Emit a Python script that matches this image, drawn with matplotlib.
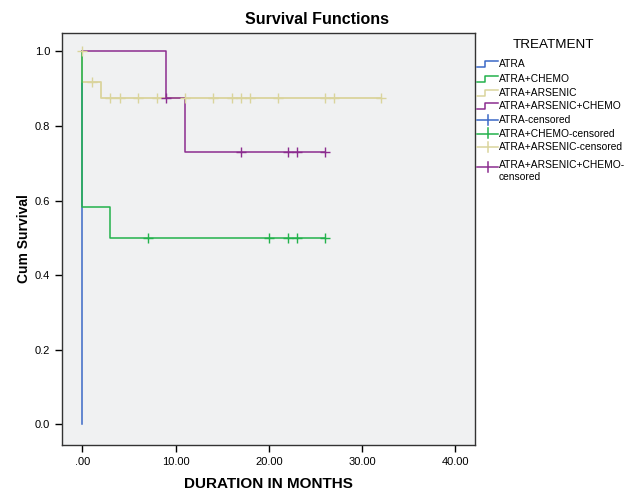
import matplotlib
matplotlib.use("Agg")
import matplotlib.pyplot as plt
from matplotlib.lines import Line2D

plt.rcParams['font.family'] = ['Liberation Sans', 'DejaVu Sans']

# Kaplan-Meier step data (time in months, cumulative survival)
atraT = [0, 0]
atraS = [1.0, 0.0]

chemoT = [0, 0, 3, 26]
chemoS = [1.0, 0.583, 0.5, 0.5]
chemoCensT = [7, 20, 22, 23, 26]

arsT = [0, 0, 2, 32]
arsS = [1.0, 0.917, 0.875, 0.875]
arsCensT = [0, 1, 3, 4, 6, 8, 11, 14, 16, 17, 18, 21, 26, 27, 32]

allT = [0, 9, 11, 26]
allS = [1.0, 0.875, 0.729, 0.729]
allCensT = [9, 17, 22, 23, 26]

groupNames = ["ATRA", "ATRA+CHEMO", "ATRA+ARSENIC", "ATRA+ARSENIC+CHEMO"]
colors = ["#3B68C6", "#23B24C", "#DAD49C", "#8C2D8F"]
xTicks = [0, 10, 20, 30, 40]
xTickLabels = [".00", "10.00", "20.00", "30.00", "40.00"]
yTicks = [0.0, 0.2, 0.4, 0.6, 0.8, 1.0]


def survAt(times, surv, t):
    # value of the step function just after time t
    val = surv[0]
    for ti, si in zip(times, surv):
        if ti <= t:
            val = si
    return val


fig = plt.figure(figsize=(6.25, 4.9), dpi=100)
ax = fig.add_axes([0.0992, 0.0918, 0.6608, 0.8412])
ax.set_facecolor("#F0F1F2")

ax.step(atraT, atraS, where='post', color=colors[0], lw=1.1)
ax.step(arsT, arsS, where='post', color=colors[2], lw=1.3)
ax.step(chemoT, chemoS, where='post', color=colors[1], lw=1.1)
ax.step(allT, allS, where='post', color=colors[3], lw=1.1)

ax.plot(arsCensT, [survAt(arsT, arsS, t) if t > 0 else 1.0 for t in arsCensT],
        ls='none', marker='+', ms=7, mew=1.0, color=colors[2])
ax.plot(chemoCensT, [survAt(chemoT, chemoS, t) for t in chemoCensT],
        ls='none', marker='+', ms=7, mew=1.0, color=colors[1])
ax.plot(allCensT, [survAt(allT, allS, t) for t in allCensT],
        ls='none', marker='+', ms=7, mew=1.0, color=colors[3])

ax.set_xlim(-2.18, 42.1)
ax.set_ylim(-0.056, 1.05)
ax.set_xticks(xTicks)
ax.set_xticklabels(xTickLabels)
ax.set_yticks(yTicks)
ax.set_yticklabels([f"{v:.1f}" for v in yTicks])
ax.tick_params(direction='out', length=5, width=1, labelsize=8, colors='black')
for sp in ax.spines.values():
    sp.set_color("#333333")
    sp.set_linewidth(1.0)

ax.set_xlabel("DURATION IN MONTHS", fontsize=11, fontweight='bold', labelpad=7)
ax.set_ylabel("Cum Survival", fontsize=10, fontweight='bold', labelpad=3)
fig.text(317 / 625, 1 - 19 / 490, "Survival Functions", ha='center', va='center',
         fontsize=11.5, fontweight='bold')

# legend drawn by hand to mimic SPSS layout
W, H = 625.0, 490.0
fig.text(553 / W, 1 - 45 / H, "TREATMENT", ha='center', va='center', fontsize=9.7)
rowsY = [64, 79, 93, 106, 120, 133.5, 147, 160]
labels = groupNames + ["ATRA-censored", "ATRA+CHEMO-censored",
                       "ATRA+ARSENIC-censored", "ATRA+ARSENIC+CHEMO-\ncensored"]
x0, x1 = 477, 498
for i, (yy, lab) in enumerate(zip(rowsY, labels)):
    c = colors[i % 4]
    if i < 4:
        xs = [x0, x0 + 8, x0 + 8, x1]
        ys = [yy + 3, yy + 3, yy - 3, yy - 3]
        fig.add_artist(Line2D([x / W for x in xs], [1 - y / H for y in ys],
                              color=c, lw=1.1, transform=fig.transFigure))
    else:
        cy = yy if i < 7 else yy + 7
        fig.add_artist(Line2D([x0 / W, x1 / W], [1 - cy / H, 1 - cy / H],
                              color=c, lw=1.1, transform=fig.transFigure))
        fig.add_artist(Line2D([(x0 + x1) / 2 / W] * 2, [1 - (cy - 5) / H, 1 - (cy + 5) / H],
                              color=c, lw=1.1, transform=fig.transFigure))
    fig.text(499 / W, 1 - yy / H, lab, ha='left', va='top' if i == 7 else 'center',
             fontsize=7.4, linespacing=1.25)

fig.savefig("out.png", dpi=100)
